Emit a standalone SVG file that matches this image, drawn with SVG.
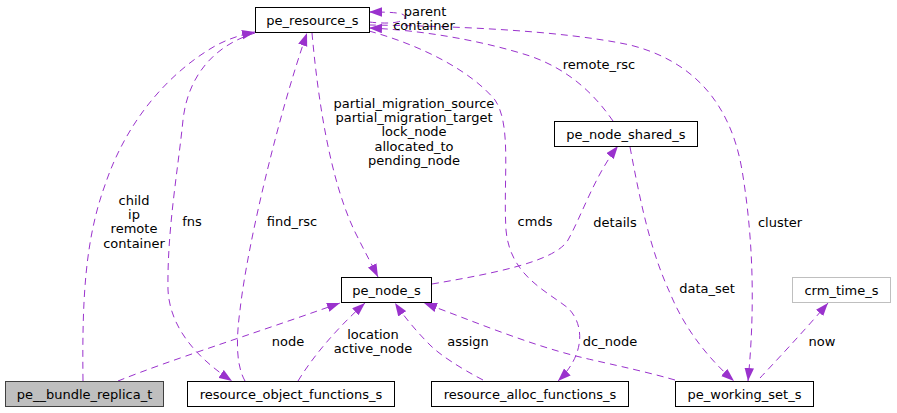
<svg xmlns="http://www.w3.org/2000/svg" width="897" height="413" viewBox="0 0 897 413">
<defs>
<marker id="ah" markerUnits="userSpaceOnUse" markerWidth="14" markerHeight="10" refX="13" refY="4.75" orient="auto">
<path d="M0,0 L13,4.75 L0,9.5 z" fill="#9a32cd"/>
</marker>
<style>
.n rect{fill:#fff;stroke:#000;stroke-width:1}
text{font-family:"DejaVu Sans","Liberation Sans",sans-serif;font-size:13px;fill:#000;text-anchor:middle}
.e path{fill:none;stroke:#9a32cd;stroke-width:1;stroke-dasharray:7,5;marker-end:url(#ah)}
</style>
</defs>
<rect width="897" height="413" fill="#fff"/>
<g class="e" id="edges">
<path d="M83,381 C82,300 85,240 105,185 C125,125 165,75 215,46 C228,39 240,35 255,32"/>
<path d="M255,33 C215,45 188,75 183,120 C178,170 167,230 168,290 C170,330 200,360 232,381"/>
<path d="M245,381 C236,365 236,340 240,310 C248,240 280,110 307,33"/>
<path d="M312,33 C318,100 330,180 355,232 C365,252 372,265 378,277"/>
<path d="M369,22 C395,25 405,21 405,17 C405,13 395,12 369,12"/>
<path d="M613,121 C595,95 570,70 530,56 C480,40 420,30 369,28"/>
<path d="M369,31 C420,45 470,70 495,100 C512,125 503,180 506,230 C510,275 545,290 568,308 C585,325 585,355 558,381"/>
<path d="M369,25 C450,26 560,30 630,45 C690,60 730,100 742,170 C752,230 756,300 748,381"/>
<path d="M432,284 C490,274 555,262 568,240 C582,215 595,175 618,146"/>
<path d="M630,147 C640,200 650,250 670,293 C685,330 710,360 734,381"/>
<path d="M760,378 C775,362 805,330 828,303"/>
<path d="M675,380 C640,370 600,362 580,357 C530,345 470,320 424,303"/>
<path d="M483,380 C460,368 440,355 430,345 C418,333 405,318 395,303"/>
<path d="M298,381 C312,358 335,330 365,303"/>
<path d="M118,381 C170,360 250,335 340,303"/>
</g>
<g id="edge-labels">
<text x="134" y="204.5">child</text>
<text x="134" y="219">ip</text>
<text x="134" y="233">remote</text>
<text x="134" y="247.5">container</text>
<text x="192" y="226">fns</text>
<text x="292" y="226">find_rsc</text>
<text x="414" y="108">partial_migration_source</text>
<text x="414" y="122">partial_migration_target</text>
<text x="414" y="136">lock_node</text>
<text x="414" y="151">allocated_to</text>
<text x="414" y="165">pending_node</text>
<text x="425" y="16">parent</text>
<text x="424" y="30">container</text>
<text x="599" y="69">remote_rsc</text>
<text x="535" y="226">cmds</text>
<text x="615" y="227">details</text>
<text x="780" y="227">cluster</text>
<text x="707" y="293">data_set</text>
<text x="288" y="346">node</text>
<text x="373" y="339">location</text>
<text x="373" y="353">active_node</text>
<text x="468" y="346">assign</text>
<text x="610" y="346">dc_node</text>
<text x="822" y="346">now</text>
</g>
<g class="n" id="pe_resource_s"><rect x="255.5" y="7.5" width="114" height="25"/><text x="312.5" y="24.5">pe_resource_s</text></g>
<g class="n" id="pe_node_shared_s"><rect x="554.5" y="121.5" width="143" height="25"/><text x="626" y="138.5">pe_node_shared_s</text></g>
<g class="n" id="pe_node_s"><rect x="341.5" y="277.5" width="90" height="25"/><text x="386.5" y="294.5">pe_node_s</text></g>
<g class="n" id="crm_time_s"><rect x="792.5" y="277.5" width="98" height="25" style="stroke:#bfbfbf"/><text x="841.5" y="294.5">crm_time_s</text></g>
<g class="n" id="pe__bundle_replica_t"><rect x="5.5" y="381.5" width="158" height="25" style="fill:#bfbfbf;stroke:#404040"/><text x="84.5" y="398.5">pe__bundle_replica_t</text></g>
<g class="n" id="resource_object_functions_s"><rect x="187.5" y="381.5" width="207" height="25"/><text x="291" y="398.5">resource_object_functions_s</text></g>
<g class="n" id="resource_alloc_functions_s"><rect x="431.5" y="381.5" width="197" height="25"/><text x="530" y="398.5">resource_alloc_functions_s</text></g>
<g class="n" id="pe_working_set_s"><rect x="675.5" y="381.5" width="138" height="25"/><text x="744.5" y="398.5">pe_working_set_s</text></g>
</svg>
